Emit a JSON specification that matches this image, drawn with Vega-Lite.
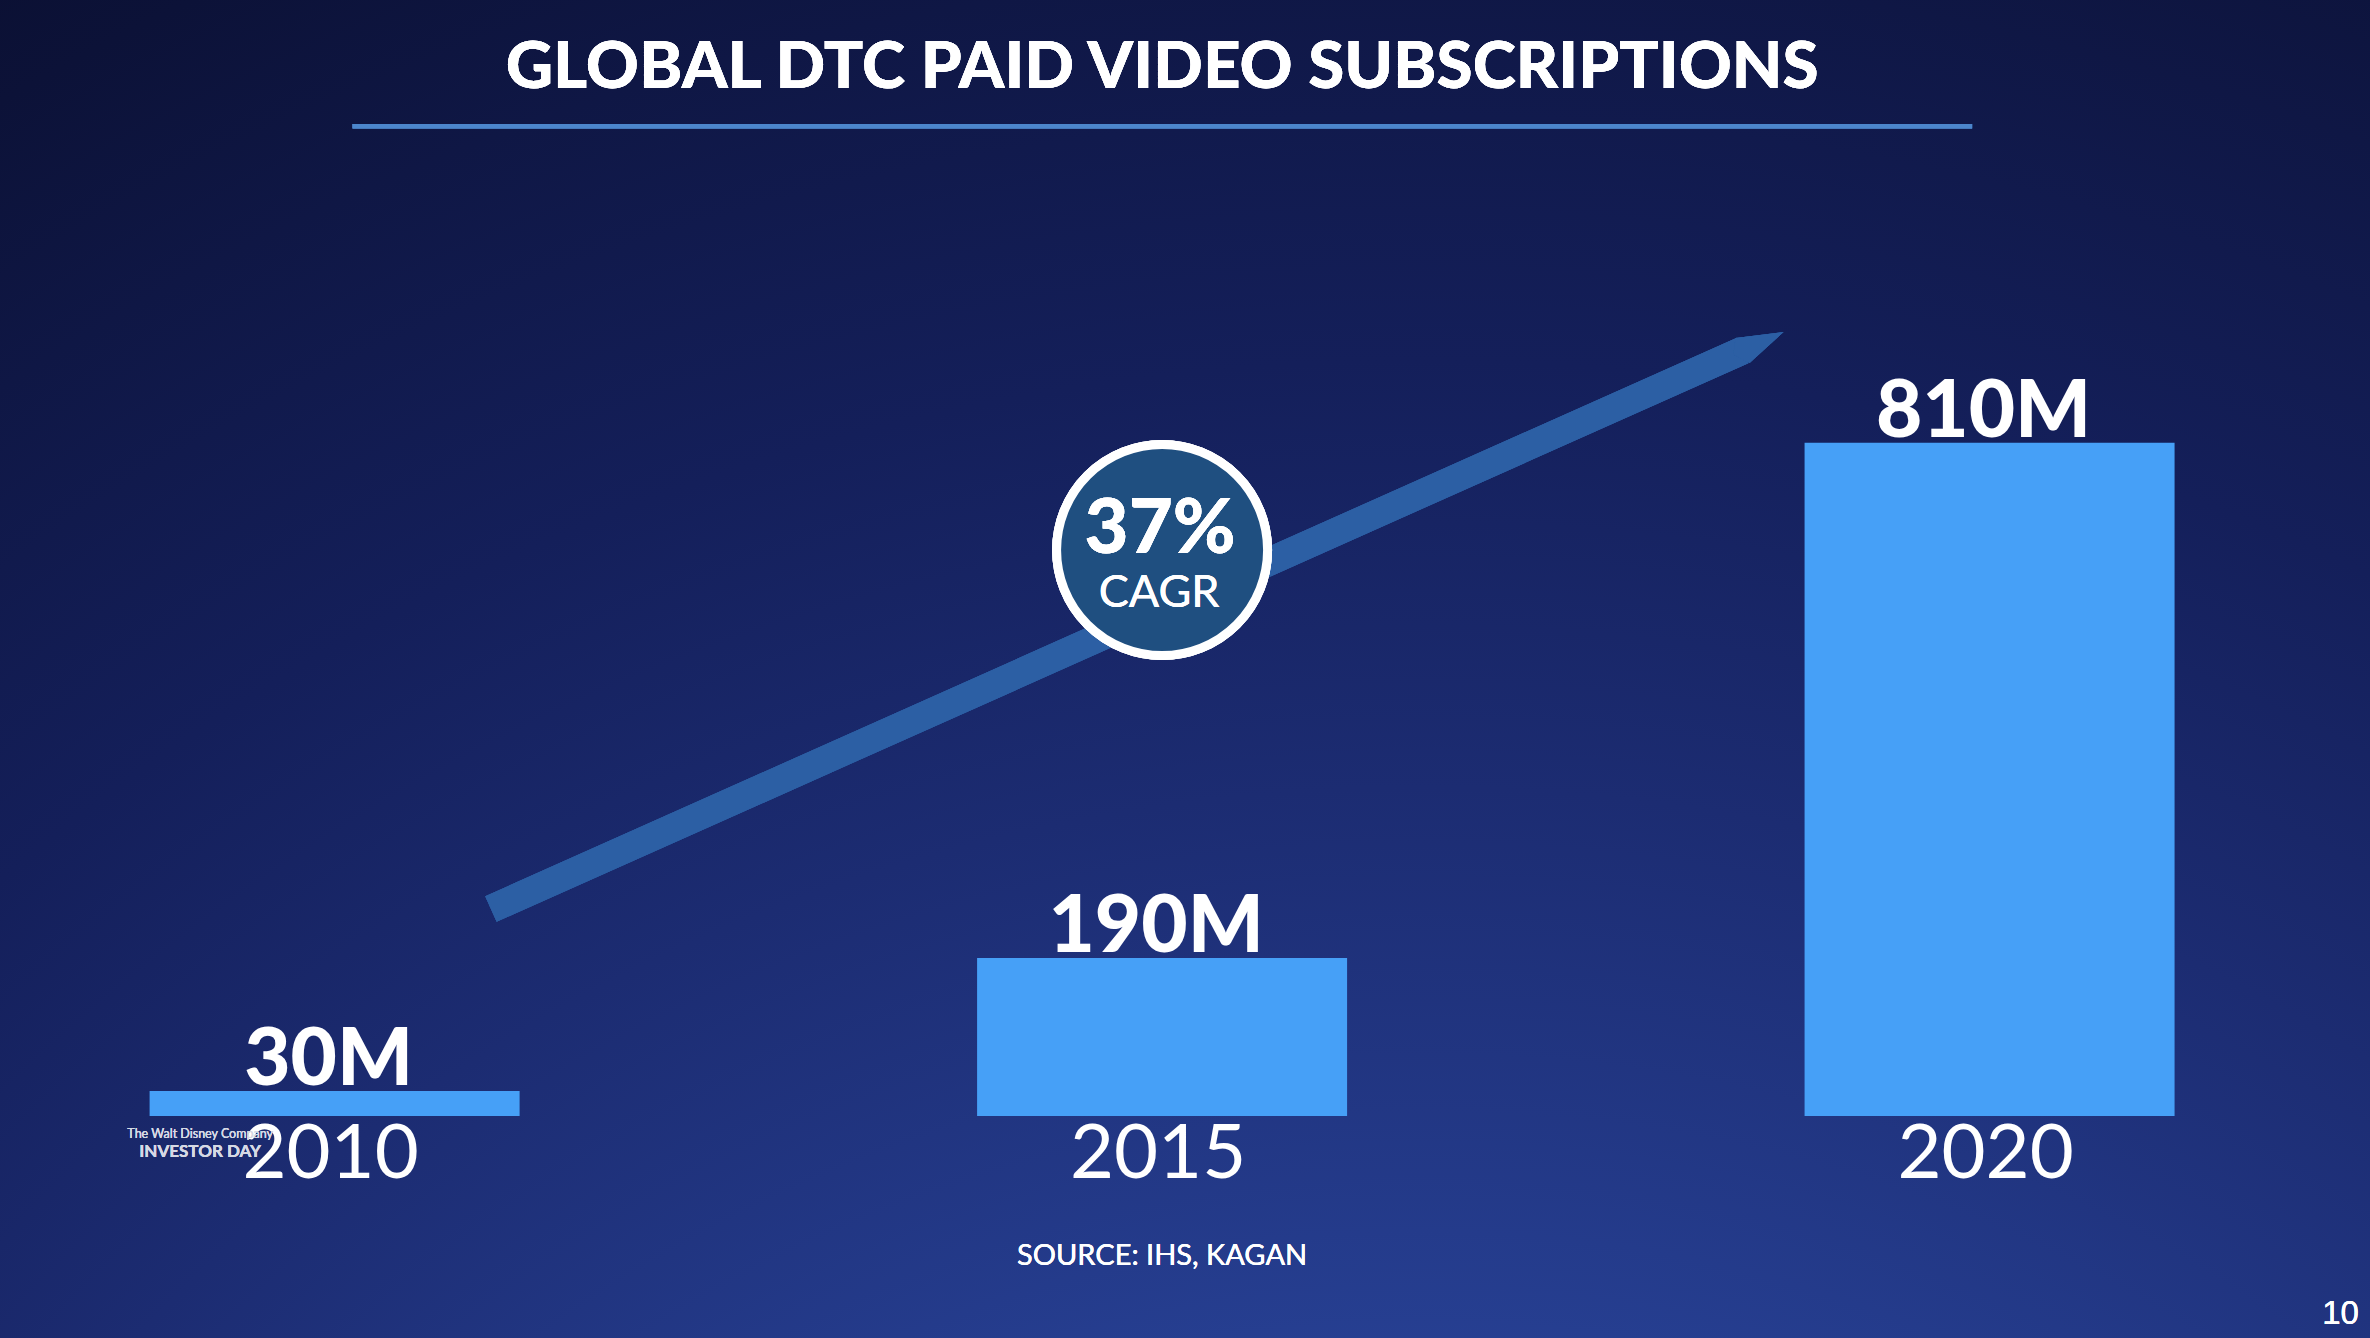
{
  "$schema": "https://vega.github.io/schema/vega-lite/v6.json",
  "autosize": {"type": "fit", "contains": "padding"},
  "width": 2370,
  "height": 1338,
  "padding": 0,
  "background": "#0b1030",
  "data": {
    "values": [
      {"year": 2010, "subs": 30, "label": "30M"},
      {"year": 2015, "subs": 190, "label": "190M"},
      {"year": 2020, "subs": 810, "label": "810M"}
    ]
  },
  "encoding": {
    "x": {
      "field": "year",
      "type": "quantitative",
      "scale": {"domain": [2008.0084, 2022.2685], "nice": false, "zero": false},
      "axis": null
    },
    "y": {
      "field": "subs",
      "type": "quantitative",
      "scale": {"domain": [-267.1, 1342.6], "nice": false, "zero": false},
      "axis": null
    }
  },
  "layer": [
    {
      "mark": {"type": "bar", "orient": "vertical", "width": 370, "color": "#46a0f7"},
      "encoding": {"y2": {"datum": 0}}
    },
    {
      "mark": {"type": "text", "font": "Lato", "fontWeight": 900, "fontSize": 80, "color": "white", "baseline": "alphabetic", "dy": -6, "dx": -6},
      "encoding": {"text": {"field": "label"}}
    },
    {
      "mark": {"type": "text", "font": "Lato", "fontSize": 76, "color": "white", "baseline": "alphabetic", "dy": 62, "dx": -4},
      "encoding": {
        "y": {"datum": 0},
        "text": {"field": "year", "type": "quantitative", "format": "d"}
      }
    },
    {
      "mark": {"type": "rule", "color": "#2c5fa4", "strokeWidth": 28, "strokeCap": "butt"},
      "encoding": {
        "x": {"datum": 2010.9446},
        "y": {"datum": 249.0},
        "x2": {"datum": 2018.5078},
        "y2": {"datum": 921.0}
      }
    },
    {
      "mark": {"type": "point", "filled": true, "opacity": 1, "color": "#2c5fa4", "size": 3600,
        "shape": "M-0.69,-0.21 L0.91,-0.41 L-0.223,0.623 L-0.76,0.34 Z"},
      "encoding": {
        "x": {"datum": 2018.5902},
        "y": {"datum": 928.4}
      }
    },
    {
      "mark": {"type": "point", "filled": true, "opacity": 1, "fill": "#1f4f80", "stroke": "white", "strokeWidth": 9, "size": 44521, "shape": "circle"},
      "encoding": {
        "x": {"datum": 2015},
        "y": {"datum": 680.9}
      }
    },
    {
      "mark": {"type": "text", "font": "Lato", "fontWeight": 900, "fontSize": 76, "color": "white", "baseline": "alphabetic", "dx": -2},
      "encoding": {
        "x": {"datum": 2015},
        "y": {"datum": 677.0},
        "text": {"value": "37%"}
      }
    },
    {
      "mark": {"type": "text", "font": "Lato", "fontSize": 45, "color": "white", "baseline": "alphabetic", "dx": -3},
      "encoding": {
        "x": {"datum": 2015},
        "y": {"datum": 612.7},
        "text": {"value": "CAGR"}
      }
    },
    {
      "mark": {"type": "text", "font": "Lato", "fontWeight": 900, "fontSize": 65.5, "color": "white", "baseline": "middle"},
      "encoding": {
        "x": {"datum": 2015},
        "y": {"datum": 1261.0},
        "text": {"value": "GLOBAL DTC PAID VIDEO SUBSCRIPTIONS"}
      }
    },
    {
      "mark": {"type": "rule", "color": "#4c86cc", "strokeWidth": 4.5},
      "encoding": {
        "x": {"datum": 2010.1083},
        "x2": {"datum": 2019.8947},
        "y": {"datum": 1190.7}
      }
    },
    {
      "mark": {"type": "text", "font": "Lato", "fontSize": 29, "color": "white", "baseline": "alphabetic"},
      "encoding": {
        "x": {"datum": 2015},
        "y": {"datum": -179.3},
        "text": {"value": "SOURCE: IHS, KAGAN"}
      }
    },
    {
      "mark": {"type": "text", "font": "Liberation Sans", "fontSize": 33, "color": "white", "baseline": "alphabetic", "align": "right"},
      "encoding": {
        "x": {"datum": 2022.2321},
        "y": {"datum": -250.2},
        "text": {"value": "10"}
      }
    },
    {
      "mark": {"type": "text", "font": "Lato", "fontSize": 12.5, "color": "#d6d9e4", "baseline": "alphabetic"},
      "encoding": {
        "x": {"datum": 2009.1877},
        "y": {"datum": -26.5},
        "text": {"value": "The Walt Disney Company"}
      }
    },
    {
      "mark": {"type": "text", "font": "Lato", "fontWeight": "bold", "fontSize": 17, "color": "#d6d9e4", "baseline": "alphabetic"},
      "encoding": {
        "x": {"datum": 2009.1877},
        "y": {"datum": -49.3},
        "text": {"value": "INVESTOR DAY"}
      }
    }
  ],
  "config": {
    "view": {
      "stroke": null,
      "fill": {
        "gradient": "radial",
        "x1": 0.6, "y1": 1.3, "r1": 0,
        "x2": 0.6, "y2": 1.3, "r2": 1.5,
        "stops": [
          {"offset": 0, "color": "#2e4ba3"},
          {"offset": 0.3, "color": "#29449a"},
          {"offset": 0.5, "color": "#1c2c72"},
          {"offset": 0.62, "color": "#141f5a"},
          {"offset": 0.8, "color": "#0c1238"},
          {"offset": 0.92, "color": "#080b26"},
          {"offset": 1, "color": "#070920"}
        ]
      }
    }
  }
}
